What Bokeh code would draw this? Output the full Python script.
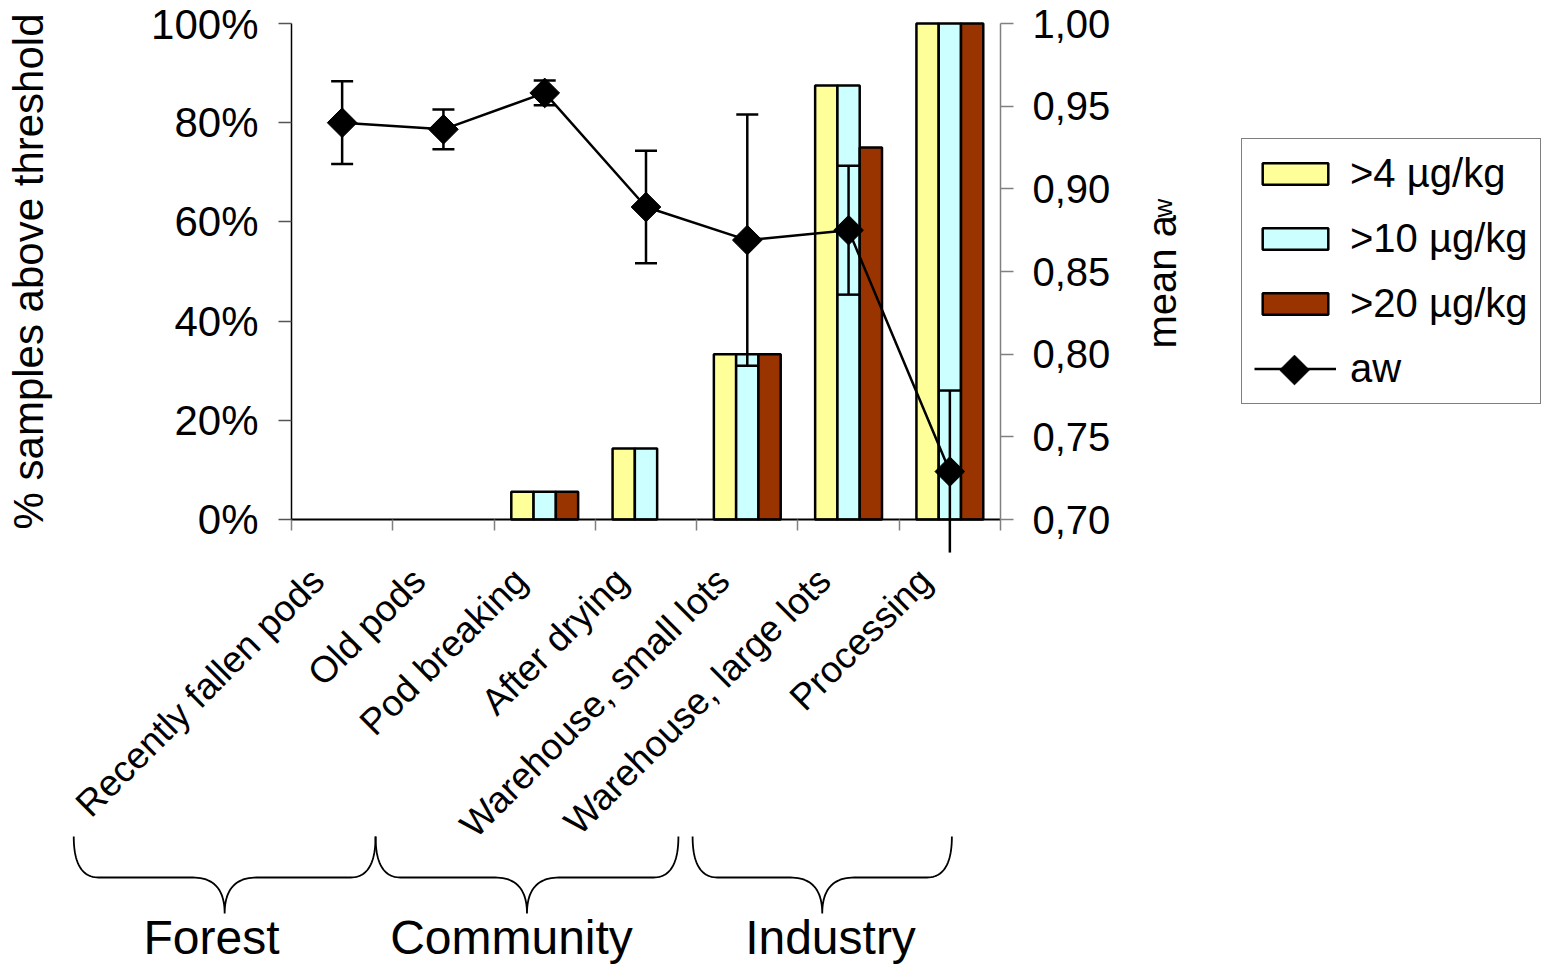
import numpy as np
from math import pi
from bokeh.plotting import figure
from bokeh.models import (ColumnDataSource, Range1d, LinearAxis, FixedTicker, PrintfTickFormatter,
                          CustomJSTickFormatter, Legend, LegendItem, Whisker, TeeHead, Label,
                          PolyAnnotation, CDSView, BooleanFilter)
from bokeh.transform import dodge
from bokeh.embed import file_html
from bokeh.resources import INLINE

# ---------------- data ----------------
categories = ["Recently fallen pods", "Old pods", "Pod breaking", "After drying",
              "Warehouse, small lots", "Warehouse, large lots", "Processing"]
pct_gt4 = [0, 0, 5.6, 14.3, 33.3, 87.5, 100]
pct_gt10 = [0, 0, 5.6, 14.3, 33.3, 87.5, 100]
pct_gt20 = [0, 0, 5.6, 0, 33.3, 75.0, 100]
aw_mean = [0.940, 0.936, 0.958, 0.889, 0.869, 0.875, 0.729]
aw_err = [0.025, 0.012, 0.0075, 0.034, 0.076, 0.039, 0.049]
series_labels = [">4 µg/kg", ">10 µg/kg", ">20 µg/kg", "aw"]
left_ticks = [0, 20, 40, 60, 80, 100]
right_ticks = [0.70, 0.75, 0.80, 0.85, 0.90, 0.95, 1.00]
group_names = ["Forest", "Community", "Industry"]

# ---------------- layout constants ----------------
FONT = "Liberation Sans"
W, H = 1543, 964
AX_L, AX_R, AX_T, AX_B = 291, 1000, 23, 519      # axes box on the canvas (px)
NCAT = len(categories)
PX_X = (AX_R - AX_L) / NCAT
PX_Y = (AX_B - AX_T) / 100.0
AW_LO, AW_HI = right_ticks[0], right_ticks[-1]
PX_AW = (AX_B - AX_T) / (AW_HI - AW_LO)

BW = 0.22
LABEL_SHIFT = -0.24
brace_start = [-2.15, 0.83, 3.96]
brace_end = [0.83, 3.82, 6.52]
LEG_X, LEG_BOTTOM, LEG_PAD, LEG_ROW, LEG_SPACE, LEG_GW = 1241, 404, 12, 45, 20, 82


def cx(px):
    return (px - AX_L) / PX_X


def cy(py):
    return (AX_B - py) / PX_Y


brace_top, brace_mid, brace_tip = cy(836), cy(877), cy(913)
group_label_x = [cx(211), cx(511), cx(830)]
group_label_y = [cy(937), cy(937), cy(937)]

centers = [i + 0.5 for i in range(NCAT)]
lo = [m - e for m, e in zip(aw_mean, aw_err)]
hi = [m + e for m, e in zip(aw_mean, aw_err)]
src = ColumnDataSource(dict(x=centers, g4=pct_gt4, g10=pct_gt10, g20=pct_gt20,
                            aw=aw_mean, lo=lo, hi=hi))

p = figure(width=W, height=H,
           x_range=Range1d(cx(0), cx(W)), y_range=Range1d(cy(H), cy(0)),
           output_backend="svg", toolbar_location=None,
           min_border_left=0, min_border_right=0, min_border_top=0, min_border_bottom=0,
           x_axis_location=None, y_axis_location=None)
p.outline_line_color = None
p.grid.visible = False
p.background_fill_color = "white"
p.border_fill_color = "white"
p.extra_y_ranges = {"aw": Range1d(AW_LO - (H - AX_B) / PX_AW, AW_HI + AX_T / PX_AW)}

# ---- x axis (at 0%) ----
xa = LinearAxis(fixed_location=0, bounds=(0, NCAT),
                ticker=FixedTicker(ticks=[c + LABEL_SHIFT for c in centers],
                                   minor_ticks=list(range(NCAT + 1))),
                formatter=CustomJSTickFormatter(args=dict(labels=categories, shift=LABEL_SHIFT),
                                                code="return labels[Math.round(tick - 0.5 - shift)];"))
xa.major_label_orientation = pi / 4
xa.major_tick_line_color = None
xa.major_tick_in = 0
xa.major_tick_out = 0
xa.minor_tick_in = 0
xa.minor_tick_out = 11
xa.minor_tick_line_color = "#808080"
xa.minor_tick_line_width = 1.5
xa.axis_line_color = "black"
xa.axis_line_width = 2
xa.major_label_text_font = FONT
xa.major_label_text_font_size = "37px"
xa.major_label_text_color = "black"
xa.major_label_standoff = 44
p.add_layout(xa, "below")

# ---- left axis ----
ya = LinearAxis(fixed_location=0, bounds=(0, 100),
                ticker=FixedTicker(ticks=left_ticks),
                formatter=PrintfTickFormatter(format="%d%%"))
ya.minor_tick_line_color = None
ya.major_tick_in = 0
ya.major_tick_out = 13
ya.major_tick_line_color = "#555555"
ya.major_tick_line_width = 1.5
ya.axis_line_color = "black"
ya.axis_line_width = 1.5
ya.major_label_text_font = FONT
ya.major_label_text_font_size = "42px"
ya.major_label_text_color = "black"
ya.major_label_standoff = 20
ya.axis_label = "% samples above threshold"
ya.axis_label_text_font = FONT
ya.axis_label_text_font_size = "42px"
ya.axis_label_text_font_style = "normal"
ya.axis_label_text_color = "black"
ya.axis_label_standoff = 96
p.add_layout(ya, "left")

# ---- right axis ----
ra = LinearAxis(y_range_name="aw", fixed_location=NCAT, bounds=(AW_LO, AW_HI),
                ticker=FixedTicker(ticks=right_ticks),
                formatter=CustomJSTickFormatter(code="return tick.toFixed(2).replace('.', ',');"))
ra.minor_tick_line_color = None
ra.major_tick_in = 0
ra.major_tick_out = 13
ra.major_tick_line_color = "#808080"
ra.major_tick_line_width = 1.5
ra.axis_line_color = "#808080"
ra.axis_line_width = 1.5
ra.major_label_text_font = FONT
ra.major_label_text_font_size = "40px"
ra.major_label_text_color = "black"
ra.major_label_standoff = 19
p.add_layout(ra, "right")

# ---- bars (zero values draw nothing) ----
def nz(vals):
    return CDSView(filter=BooleanFilter([v > 0 for v in vals]))

r4 = p.vbar(x=dodge("x", -BW, range=p.x_range), top="g4", width=BW, source=src, view=nz(pct_gt4),
            fill_color="#FFFF99", line_color="black", line_width=2.5)
r10 = p.vbar(x=dodge("x", 0, range=p.x_range), top="g10", width=BW, source=src, view=nz(pct_gt10),
             fill_color="#CCFFFF", line_color="black", line_width=2.5)
r20 = p.vbar(x=dodge("x", BW, range=p.x_range), top="g20", width=BW, source=src, view=nz(pct_gt20),
             fill_color="#993300", line_color="black", line_width=2.5)

# ---- aw line, error bars, markers ----
rl = p.line("x", "aw", source=src, y_range_name="aw", line_color="black", line_width=2.5)

inside = [l >= AW_LO for l in lo]
src_in = ColumnDataSource(dict(x=[c for c, k in zip(centers, inside) if k],
                               lo=[v for v, k in zip(lo, inside) if k],
                               hi=[v for v, k in zip(hi, inside) if k]))
src_out = ColumnDataSource(dict(x=[c for c, k in zip(centers, inside) if not k],
                                lo=[v for v, k in zip(lo, inside) if not k],
                                hi=[v for v, k in zip(hi, inside) if not k]))
p.add_layout(Whisker(base="x", lower="lo", upper="hi", source=src_in, y_range_name="aw",
                     line_color="black", line_width=2.5, level="glyph",
                     upper_head=TeeHead(size=22, line_color="black", line_width=2.5),
                     lower_head=TeeHead(size=22, line_color="black", line_width=2.5)))
p.add_layout(Whisker(base="x", lower="lo", upper="hi", source=src_out, y_range_name="aw",
                     line_color="black", line_width=2.5, level="glyph",
                     upper_head=TeeHead(size=22, line_color="black", line_width=2.5),
                     lower_head=None))
rm = p.scatter("x", "aw", source=src, y_range_name="aw", marker="square", angle=pi / 4,
               size=21, fill_color="black", line_color="black")

# ---- legend ----
legend = Legend(items=[
    LegendItem(label=series_labels[0], renderers=[r4]),
    LegendItem(label=series_labels[1], renderers=[r10]),
    LegendItem(label=series_labels[2], renderers=[r20]),
    LegendItem(label=series_labels[3], renderers=[rl]),
], location=(LEG_X, H - LEG_BOTTOM))
legend.label_text_font = FONT
legend.label_text_font_size = "40px"
legend.label_text_color = "black"
legend.glyph_width = LEG_GW
legend.glyph_height = 27
legend.label_height = LEG_ROW
legend.label_standoff = 14
legend.padding = LEG_PAD
legend.spacing = LEG_SPACE
legend.margin = 0
legend.border_line_color = "black"
legend.border_line_width = 1
legend.background_fill_alpha = 0
p.add_layout(legend)
# diamond key for the aw entry (legend markers are drawn too small by default)
p.scatter(x=[cx(LEG_X + LEG_PAD + LEG_GW / 2)], y=[cy(LEG_BOTTOM - LEG_PAD - LEG_ROW / 2)],
          marker="square", angle=pi / 4, size=21, fill_color="black", line_color="black")

# ---- right axis title: mean a_w ----
p.add_layout(Label(x=cx(1161), y=cy(348), text="mean a", angle=pi / 2,
                   text_font=FONT, text_font_size="40px", text_color="black",
                   text_align="left", text_baseline="alphabetic"))
p.add_layout(Label(x=cx(1162), y=cy(217), text="w", angle=pi / 2,
                   text_font=FONT, text_font_size="26px", text_color="black",
                   text_align="left", text_baseline="alphabetic"))

# ---- group braces and labels ----
def qbez(p0, c, p1, n=24):
    t = np.linspace(0, 1, n)
    x = (1 - t) ** 2 * p0[0] + 2 * (1 - t) * t * c[0] + t ** 2 * p1[0]
    y = (1 - t) ** 2 * p0[1] + 2 * (1 - t) * t * c[1] + t ** 2 * p1[1]
    return list(x), list(y)

rx_end = 25 / PX_X
rx_mid = 32 / PX_X
for xs0, xe0 in zip(brace_start, brace_end):
    xc = (xs0 + xe0) / 2
    segs = [
        qbez((xs0, brace_top), (xs0, brace_mid), (xs0 + rx_end, brace_mid)),
        qbez((xc - rx_mid, brace_mid), (xc, brace_mid), (xc, brace_tip)),
        qbez((xc, brace_tip), (xc, brace_mid), (xc + rx_mid, brace_mid)),
        qbez((xe0 - rx_end, brace_mid), (xe0, brace_mid), (xe0, brace_top)),
    ]
    bx, by = [], []
    for sx, sy in segs:
        bx += sx
        by += sy
    p.add_layout(PolyAnnotation(xs=bx + bx[::-1], ys=by + by[::-1], fill_alpha=0,
                                line_color="black", line_alpha=1, line_width=1.8))

for name, gx, gy in zip(group_names, group_label_x, group_label_y):
    p.add_layout(Label(x=gx, y=gy, text=name, text_font=FONT, text_font_size="48px",
                       text_color="black", text_align="center", text_baseline="alphabetic"))

open("out.html", "w").write(file_html(p, INLINE))
